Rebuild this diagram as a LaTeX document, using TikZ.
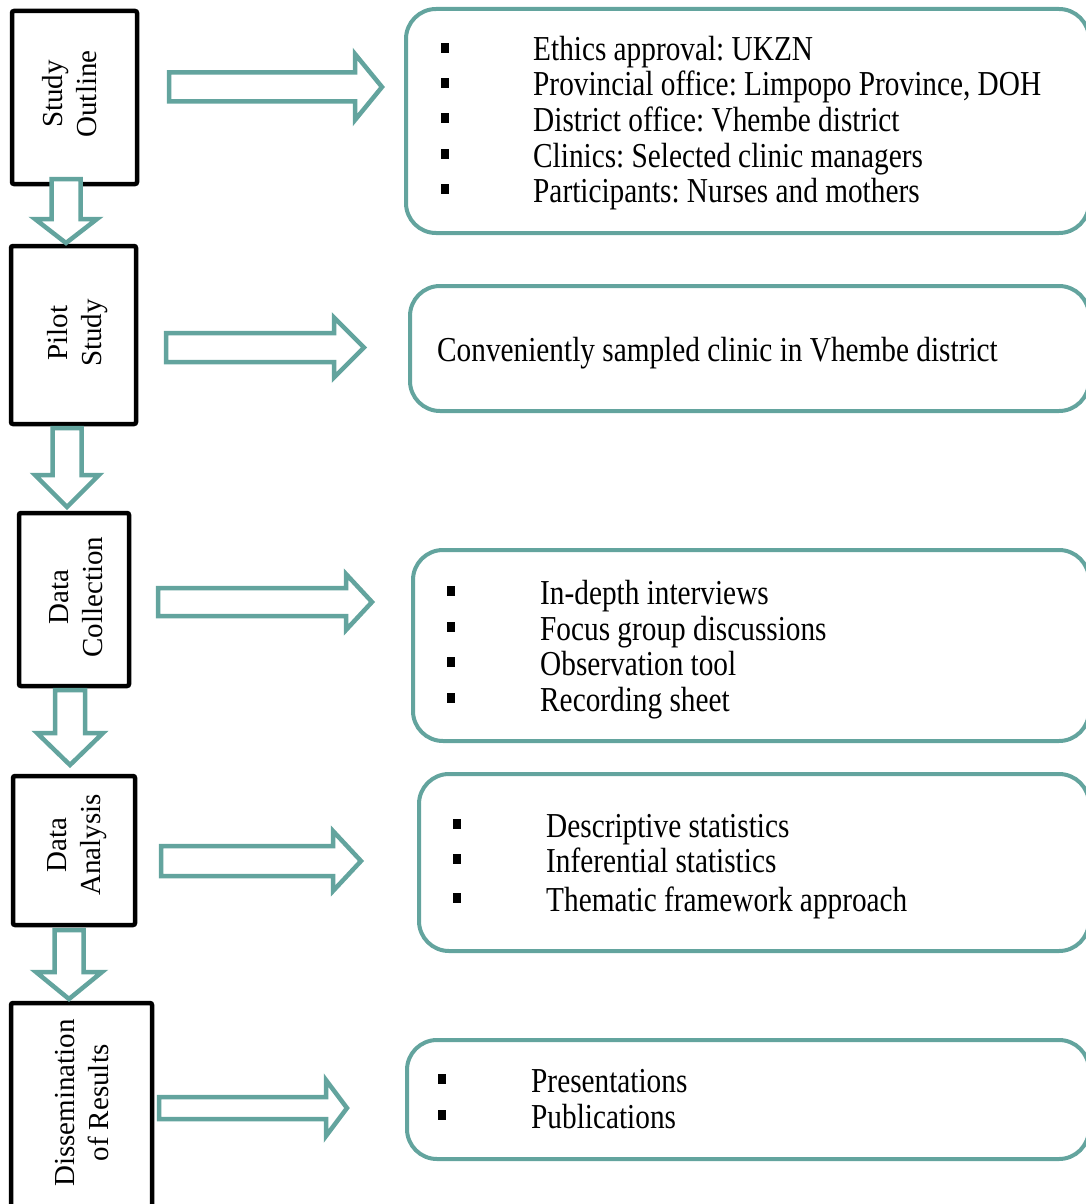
\documentclass[tikz,border=0pt]{standalone}
\usepackage{fontspec}
\setmainfont{Liberation Serif}
\newfontfamily\listfont[FakeStretch=0.837]{Liberation Serif}
\definecolor{teal}{RGB}{99,164,158}
\frenchspacing

\tikzset{
  stage/.style={draw=black, line width=4.5pt, rounded corners=2pt, fill=white},
  stagelabel/.style={rotate=90, align=center, inner sep=0pt,
    font=\fontsize{29}{34}\selectfont},
  panel/.style={draw=teal, line width=4pt, rounded corners=30pt, fill=white},
  blockarrow/.style={draw=teal, line width=4.5pt, fill=white, line join=miter},
  item/.style={anchor=base west, inner sep=0pt, font=\listfont\fontsize{35}{35}\selectfont},
}

% hollow block arrow pointing down: centre x, top y, head base y, tip y, shaft half, head half
\newcommand\downblock[6]{%
  \draw[blockarrow] ({#1-#5},#2) -- ({#1-#5},#3) -- ({#1-#6},#3) -- (#1,#4)
    -- ({#1+#6},#3) -- ({#1+#5},#3) -- ({#1+#5},#2) -- cycle;}
% hollow block arrow pointing right: centre y, left x, head base x, tip x, shaft half, head half
\newcommand\rightblock[6]{%
  \draw[blockarrow] (#2,{#1-#5}) -- (#3,{#1-#5}) -- (#3,{#1-#6}) -- (#4,#1)
    -- (#3,{#1+#6}) -- (#3,{#1+#5}) -- (#2,{#1+#5}) -- cycle;}
% bulleted list line: name, bullet centre x, text x, baseline y, text
\newcommand\listline[5]{%
  \fill ({#2-4},{#4-18}) rectangle ({#2+4},{#4-8});
  \node[item] (#1) at (#3,#4) {#5};}

\begin{document}
\begin{tikzpicture}[x=1pt,y=-1pt]
\useasboundingbox (0,0) rectangle (1086,1204);

% stage boxes on the left
\node[stage, minimum width=125pt, minimum height=173pt] (s1) at (74.5,97.5) {};
\node[stage, minimum width=125pt, minimum height=178pt] (s2) at (73.5,335) {};
\node[stage, minimum width=110pt, minimum height=173pt] (s3) at (74,599.5) {};
\node[stage, minimum width=122pt, minimum height=149pt] (s4) at (74,850.5) {};
\node[stage, minimum width=141pt, minimum height=207pt] (s5) at (81.5,1106.5) {};

% panels on the right (their right sides run off the page)
\node[panel, minimum width=683pt, minimum height=224pt] (p1) at (747.5,121) {};
\node[panel, minimum width=679pt, minimum height=125pt] (p2) at (749.5,348.5) {};
\node[panel, minimum width=676pt, minimum height=191pt] (p3) at (751,645.5) {};
\node[panel, minimum width=670pt, minimum height=177pt] (p4) at (754,862.5) {};
\node[panel, minimum width=682pt, minimum height=119pt] (p5) at (748,1099.5) {};

% downward arrows between stages
\downblock{66}{179}{219}{243}{14.5}{31}
\downblock{67}{428}{475}{507}{14.5}{32}
\downblock{70}{690}{733}{765}{15}{33}
\downblock{69}{930}{972}{999}{14.5}{33}

% arrows from stages to panels
\rightblock{87}{169}{355}{382}{14.5}{33}
\rightblock{347.5}{166}{334}{364}{14.5}{30}
\rightblock{602}{158}{346}{372}{14}{28}
\rightblock{861}{161}{333}{361}{15}{30}
\rightblock{1108}{159}{326}{347}{11}{28}

% stage titles
\node[stagelabel] (t1) at (70,94) {Study\\Outline};
\node[stagelabel] (t2) at (78,333) {Pilot\\Study};
\node[stagelabel] (t3) at (76,597) {Data\\Collection};
\node[stagelabel] (t4) at (77,845) {Data\\Analysis};
\node[stagelabel] (t5) at (82,1103) {Dissemination\\of Results};

% panel contents
\listline{a1}{444.5}{533}{61}{Ethics approval: UKZN}
\listline{a2}{444.5}{533}{96}{Provincial office: Limpopo Province, DOH}
\listline{a3}{444.5}{533}{131.5}{District office: Vhembe district}
\listline{a4}{444.5}{533}{167}{Clinics: Selected clinic managers}
\listline{a5}{444.5}{533}{202}{Participants: Nurses and mothers}

\node[item] (b1) at (437,361) {Conveniently sampled clinic in Vhembe district};

\listline{c1}{450.5}{540}{604}{In-depth interviews}
\listline{c2}{450.5}{540}{640}{Focus group discussions}
\listline{c3}{450.5}{540}{675}{Observation tool}
\listline{c4}{450.5}{540}{711}{Recording sheet}

\listline{d1}{457}{546}{837}{Descriptive statistics}
\listline{d2}{457}{546}{872}{Inferential statistics}
\listline{d3}{457}{546}{911}{Thematic framework approach}

\listline{e1}{442}{531}{1092}{Presentations}
\listline{e2}{442}{531}{1128}{Publications}
\end{tikzpicture}
\end{document}
